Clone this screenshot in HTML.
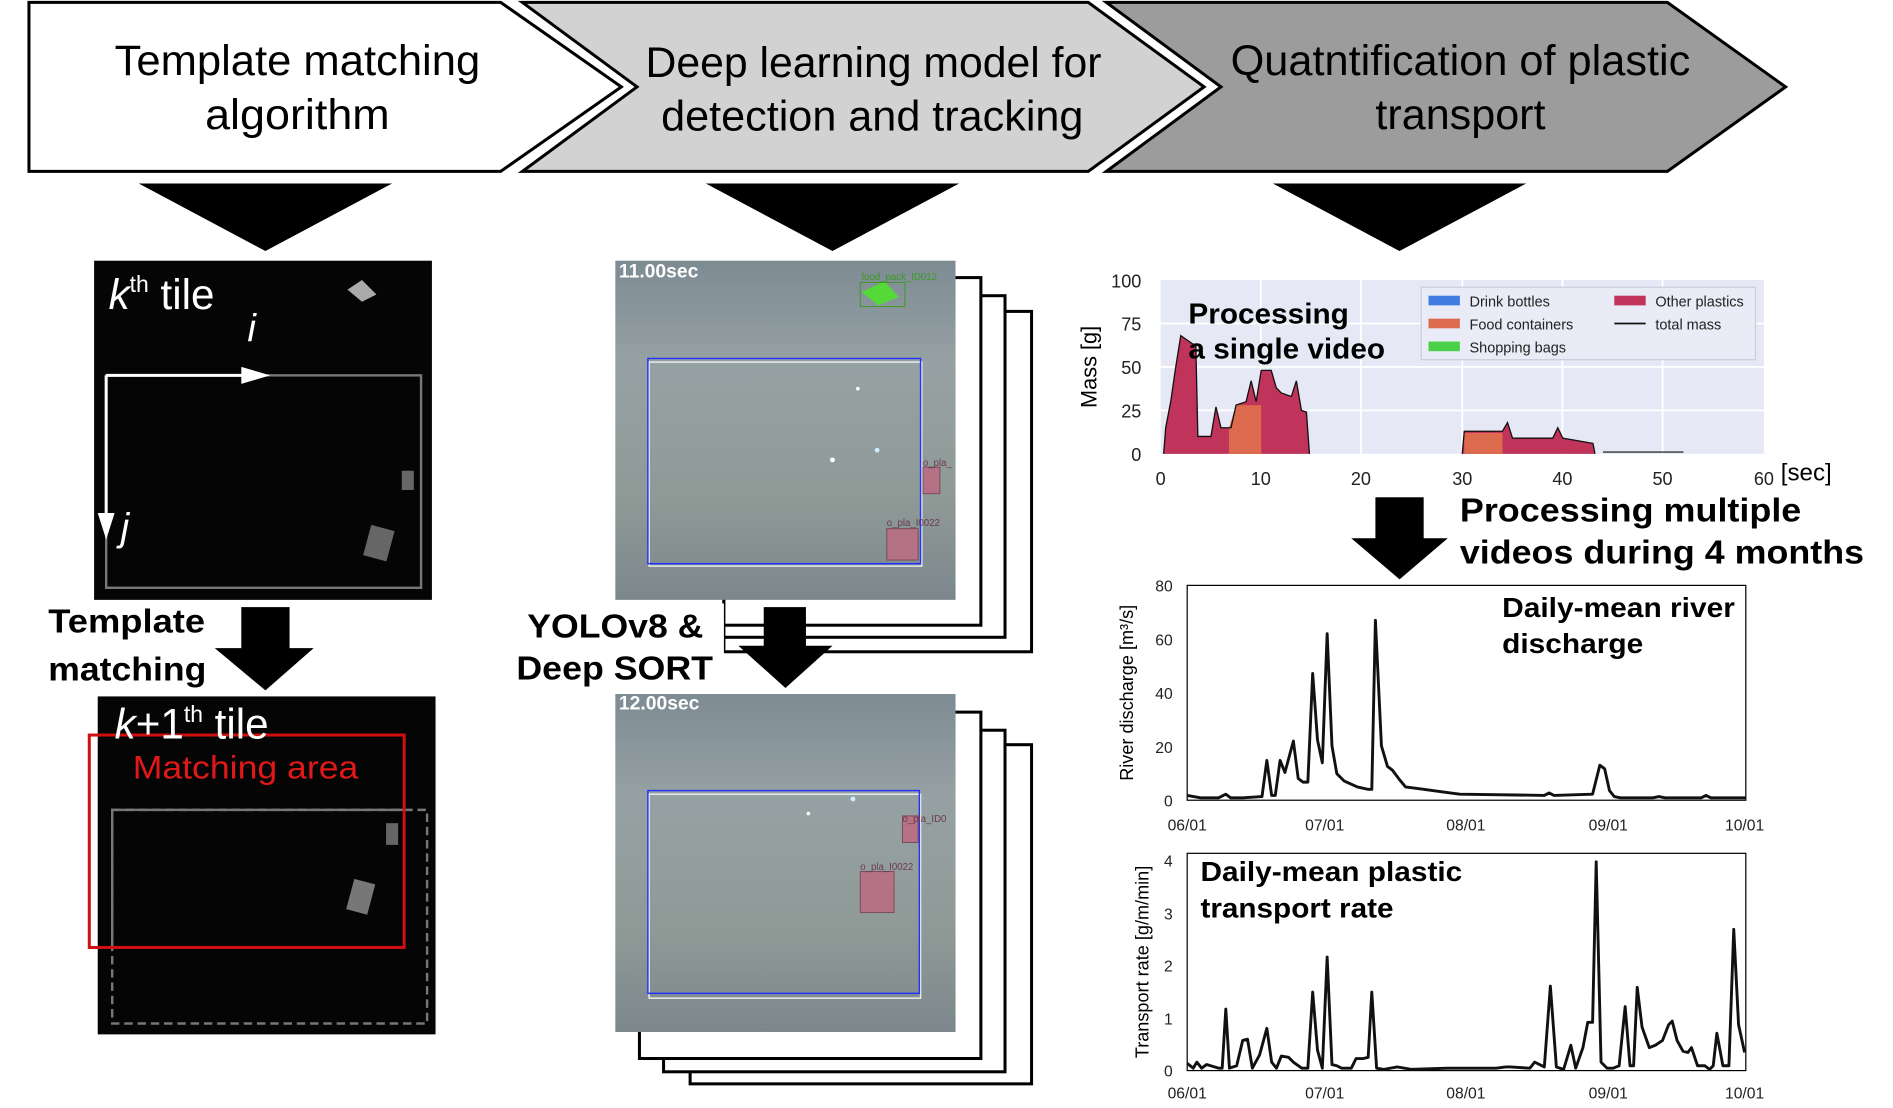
<!DOCTYPE html>
<html><head><meta charset="utf-8"><style>
html,body{margin:0;padding:0;background:#fff;overflow:hidden}
svg{display:block}
text{font-family:"Liberation Sans",sans-serif}
</style></head><body>
<svg width="1893" height="1108" viewBox="0 0 1569 918" preserveAspectRatio="none" xmlns="http://www.w3.org/2000/svg">
<defs>
<linearGradient id="ph" x1="0" y1="0" x2="0" y2="1"><stop offset="0" stop-color="#7d8b93"/><stop offset="0.3" stop-color="#96a1a3"/><stop offset="0.7" stop-color="#8f9a97"/><stop offset="1" stop-color="#7b878b"/></linearGradient>
</defs>
<polygon points="24,2 415,2 515,72 415,142 24,142" fill="#fff" stroke="#000" stroke-width="2.5"/>
<polygon points="433,2 902,2 998,72 902,142 433,142 528,72" fill="#d2d2d2" stroke="#000" stroke-width="2.5"/>
<polygon points="917,2 1382,2 1480,72 1382,142 917,142 1012,72" fill="#9c9c9c" stroke="#000" stroke-width="2.5"/>
<g font-size="35" fill="#000">
<text x="95" y="62" textLength="303" lengthAdjust="spacingAndGlyphs">Template matching</text>
<text x="170" y="107" textLength="153" lengthAdjust="spacingAndGlyphs">algorithm</text>
<text x="535" y="64" textLength="378" lengthAdjust="spacingAndGlyphs">Deep learning model for</text>
<text x="548" y="108" textLength="350" lengthAdjust="spacingAndGlyphs">detection and tracking</text>
<text x="1020" y="62" textLength="381" lengthAdjust="spacingAndGlyphs">Quatntification of plastic</text>
<text x="1140" y="107" textLength="141" lengthAdjust="spacingAndGlyphs">transport</text>
</g>
<polygon points="115,152 325,152 220,208" fill="#000"/>
<polygon points="585,152 795,152 690,208" fill="#000"/>
<polygon points="1055,152 1265,152 1160,208" fill="#000"/>

<rect x="78" y="216" width="280" height="281" fill="#050505"/>
<rect x="88" y="311" width="261" height="176" fill="none" stroke="#777" stroke-width="2"/>
<polygon points="288,240 300,232 312,244 300,250" fill="#aaa"/>
<rect x="304" y="437" width="20" height="26" fill="#666" transform="rotate(15 314 450)"/>
<rect x="333" y="390" width="10" height="16" fill="#666"/>
<line x1="88" y1="311" x2="205" y2="311" stroke="#fff" stroke-width="2.5"/>
<polygon points="200,304 224,311 200,318" fill="#fff"/>
<line x1="88" y1="311" x2="88" y2="430" stroke="#fff" stroke-width="2.5"/>
<polygon points="81,425 95,425 88,447" fill="#fff"/>
<text x="90" y="256" fill="#fff" font-size="35"><tspan font-style="italic">k</tspan><tspan font-size="19" dy="-14">th</tspan><tspan dy="14"> tile</tspan></text>
<text x="205" y="283" fill="#fff" font-size="32" font-style="italic">i</text>
<text x="100" y="448" fill="#fff" font-size="32" font-style="italic">j</text>
<text x="40" y="524" font-size="28" font-weight="bold" textLength="130" lengthAdjust="spacingAndGlyphs">Template</text>
<text x="40" y="564" font-size="28" font-weight="bold" textLength="131" lengthAdjust="spacingAndGlyphs">matching</text>
<rect x="200" y="503" width="40" height="35" fill="#000"/>
<polygon points="178,537 260,537 220,572" fill="#000"/>

<rect x="81" y="577" width="280" height="280" fill="#050505"/>
<rect x="93" y="671" width="242" height="114" fill="none" stroke="#777" stroke-width="2"/>
<rect x="93" y="671" width="261" height="177" fill="none" stroke="#777" stroke-width="2" stroke-dasharray="7,4"/>
<rect x="74" y="609" width="261" height="176" fill="none" stroke="#d01010" stroke-width="2.5"/>
<rect x="290" y="730" width="18" height="26" fill="#777" transform="rotate(15 299 743)"/>
<rect x="320" y="682" width="10" height="18" fill="#666"/>
<text x="95" y="612" fill="#fff" font-size="35"><tspan font-style="italic">k</tspan><tspan>+1</tspan><tspan font-size="19" dy="-14">th</tspan><tspan dy="14"> tile</tspan></text>
<text x="110" y="645" fill="#e01818" font-size="27" textLength="187" lengthAdjust="spacingAndGlyphs">Matching area</text>

<g fill="#fff" stroke="#000" stroke-width="2.5">
<rect x="600" y="258" width="255" height="282"/>
<rect x="600" y="245" width="233" height="283"/>
<rect x="600" y="230" width="213" height="288"/>
<rect x="572" y="617" width="283" height="281"/>
<rect x="550" y="605" width="283" height="283"/>
<rect x="530" y="590" width="283" height="287"/>
</g>
<rect x="510" y="216" width="282" height="281" fill="url(#ph)"/>
<rect x="510" y="575" width="282" height="280" fill="url(#ph)"/>
<rect x="538" y="300" width="226" height="169" fill="none" stroke="#eee" stroke-width="1.2"/>
<rect x="537" y="297" width="226" height="170" fill="none" stroke="#2233ff" stroke-width="1.2"/>
<rect x="538" y="658" width="225" height="169" fill="none" stroke="#eee" stroke-width="1.2"/>
<rect x="537" y="655" width="225" height="168" fill="none" stroke="#2233ff" stroke-width="1.2"/>
<polygon points="714,242 733,233 745,246 728,253" fill="#55d838"/>
<rect x="713" y="234" width="37" height="20" fill="none" stroke="#3a9a20" stroke-width="0.8"/>
<text x="714" y="232" font-size="8" fill="#3a9a20">food_pack_ID012</text>
<rect x="765" y="387" width="14" height="22" fill="#b47284" stroke="#7a4a5a" stroke-width="0.8"/>
<rect x="735" y="438" width="26" height="26" fill="#b47284" stroke="#7a4a5a" stroke-width="0.8"/>
<text x="765" y="386" font-size="8" fill="#6a3a4a">o_pla_</text>
<text x="735" y="436" font-size="8" fill="#6a3a4a">o_pla_I0022</text>
<rect x="748" y="676" width="13" height="22" fill="#b47284" stroke="#7a4a5a" stroke-width="0.8"/>
<rect x="713" y="722" width="28" height="34" fill="#b47284" stroke="#7a4a5a" stroke-width="0.8"/>
<text x="748" y="681" font-size="8" fill="#6a3a4a">o_pla_ID0</text>
<text x="713" y="721" font-size="8" fill="#6a3a4a">o_pla_I0022</text>
<circle cx="690" cy="381" r="2" fill="#fff"/><circle cx="727" cy="373" r="2" fill="#cef"/><circle cx="711" cy="322" r="1.5" fill="#fff"/>
<circle cx="707" cy="662" r="2" fill="#cef"/><circle cx="670" cy="674" r="1.5" fill="#fff"/>
<text x="513" y="230" font-size="16" font-weight="bold" fill="#fff">11.00sec</text>
<text x="513" y="588" font-size="16" font-weight="bold" fill="#fff">12.00sec</text>
<rect x="420" y="500" width="180" height="70" fill="#fff"/>
<text x="437" y="528" font-size="28" font-weight="bold" textLength="146" lengthAdjust="spacingAndGlyphs">YOLOv8 &amp;</text>
<text x="428" y="563" font-size="28" font-weight="bold" textLength="163" lengthAdjust="spacingAndGlyphs">Deep SORT</text>
<rect x="633" y="503" width="35" height="33" fill="#000"/>
<polygon points="612,535 690,535 651,570" fill="#000"/>

<rect x="962" y="232" width="500" height="144" fill="#e6e9f5"/>
<g stroke="#fff" stroke-width="1.5">
<line x1="962" y1="268" x2="1462" y2="268"/><line x1="962" y1="304" x2="1462" y2="304"/><line x1="962" y1="340" x2="1462" y2="340"/>
<line x1="1045" y1="232" x2="1045" y2="376"/><line x1="1128" y1="232" x2="1128" y2="376"/><line x1="1212" y1="232" x2="1212" y2="376"/><line x1="1295" y1="232" x2="1295" y2="376"/><line x1="1378" y1="232" x2="1378" y2="376"/>
</g>
<g transform="translate(962,376) scale(8.333,-1.44)">
<polygon fill="#c0335a" points="0.3,0 0.5,15 1,30 1.5,50 2,68 2.5,66 3.5,62 3.7,10 5,10 5.5,27 6,15 7,15 7.5,28 8.5,30 9,42 9.5,30 10,48 11,48 11.5,38 12,35 13,33 13.5,42 14,25 14.5,24 14.8,0"/>
<polygon fill="#dc6b4e" points="6.8,0 6.8,15 7.5,28 10,28 10,0"/>
<polygon fill="#c0335a" points="30,0 30.2,13 34,13 34.5,18 35,9 39,9 39.5,15 40,9 42,7 43,6 43.2,0"/>
<polygon fill="#dc6b4e" points="30.2,0 30.2,12 34,12 34,0"/>
<polyline fill="none" stroke="#111" vector-effect="non-scaling-stroke" stroke-width="1.3" points="0.3,0 0.5,15 1,30 1.5,50 2,68 2.5,66 3.5,62 3.7,10 5,10 5.5,27 6,15 7,15 7.5,28 8.5,30 9,42 9.5,30 10,48 11,48 11.5,38 12,35 13,33 13.5,42 14,25 14.5,24 14.8,0"/>
<polyline fill="none" stroke="#111" vector-effect="non-scaling-stroke" stroke-width="1.3" points="30,0 30.2,13 34,13 34.5,18 35,9 39,9 39.5,15 40,9 42,7 43,6 43.2,0"/>
<polyline fill="none" stroke="#333" vector-effect="non-scaling-stroke" stroke-width="1.3" points="44,1 52,1"/>
</g>
<g font-size="15" fill="#222" text-anchor="end">
<text x="946" y="238">100</text><text x="946" y="274">75</text><text x="946" y="310">50</text><text x="946" y="346">25</text><text x="946" y="382">0</text>
</g>
<g font-size="15" fill="#222" text-anchor="middle">
<text x="962" y="402">0</text><text x="1045" y="402">10</text><text x="1128" y="402">20</text><text x="1212" y="402">30</text><text x="1295" y="402">40</text><text x="1378" y="402">50</text><text x="1462" y="402">60</text>
</g>
<text x="1476" y="398" font-size="20">[sec]</text>
<text transform="translate(909,304) rotate(-90)" font-size="18" text-anchor="middle">Mass [g]</text>
<rect x="1178" y="238" width="277" height="60" fill="#e9ecf6" stroke="#ccd" stroke-width="1"/>
<g font-size="12" fill="#222">
<rect x="1184" y="245" width="26" height="8" fill="#3f7de0"/><text x="1218" y="254">Drink bottles</text>
<rect x="1184" y="264" width="26" height="8" fill="#dc6b4e"/><text x="1218" y="273">Food containers</text>
<rect x="1184" y="283" width="26" height="8" fill="#4bd04a"/><text x="1218" y="292">Shopping bags</text>
<rect x="1338" y="245" width="26" height="8" fill="#c0335a"/><text x="1372" y="254">Other plastics</text>
<line x1="1338" y1="268" x2="1364" y2="268" stroke="#111" stroke-width="1.5"/><text x="1372" y="273">total mass</text>
</g>
<text x="985" y="268" font-size="24" font-weight="bold" textLength="133" lengthAdjust="spacingAndGlyphs">Processing</text>
<text x="985" y="297" font-size="24" font-weight="bold" textLength="163" lengthAdjust="spacingAndGlyphs">a single video</text>

<rect x="1140" y="412" width="40" height="36" fill="#000"/>
<polygon points="1120,446 1200,446 1160,480" fill="#000"/>
<text x="1210" y="432" font-size="28" font-weight="bold" textLength="283" lengthAdjust="spacingAndGlyphs">Processing multiple</text>
<text x="1210" y="467" font-size="28" font-weight="bold" textLength="335" lengthAdjust="spacingAndGlyphs">videos during 4 months</text>

<rect x="984" y="485" width="463" height="178" fill="#fff" stroke="#000" stroke-width="1"/>
<g font-size="13" fill="#222" text-anchor="end">
<text x="972" y="490">80</text><text x="972" y="535">60</text><text x="972" y="579">40</text><text x="972" y="624">20</text><text x="972" y="668">0</text>
</g>
<g font-size="13" fill="#222" text-anchor="middle">
<text x="984" y="688">06/01</text><text x="1098" y="688">07/01</text><text x="1215" y="688">08/01</text><text x="1333" y="688">09/01</text><text x="1446" y="688">10/01</text>
<text x="984" y="910">06/01</text><text x="1098" y="910">07/01</text><text x="1215" y="910">08/01</text><text x="1333" y="910">09/01</text><text x="1446" y="910">10/01</text>
</g>
<text transform="translate(939,574) rotate(-90)" font-size="15" text-anchor="middle">River discharge [m³/s]</text>
<polyline fill="none" stroke="#111" stroke-width="2.4" stroke-linejoin="round" points="984,659 995,661 1010,661 1016,658 1020,661 1030,661 1046,660 1050,630 1054,659 1057,659 1061,630 1065,640 1072,614 1076,645 1080,648 1084,648 1088,558 1092,613 1096,632 1100,525 1104,618 1108,641 1114,647 1125,652 1134,654 1137,654 1140,514 1145,618 1150,635 1154,638 1160,646 1165,652 1180,654 1195,656 1210,658 1280,659 1284,657 1288,659 1320,658 1326,634 1330,637 1334,655 1338,660 1343,661 1370,661 1375,660 1380,661 1410,661 1414,659 1418,661 1447,661"/>
<text x="1245" y="511" font-size="23" font-weight="bold" textLength="193" lengthAdjust="spacingAndGlyphs">Daily-mean river</text>
<text x="1245" y="541" font-size="23" font-weight="bold" textLength="117" lengthAdjust="spacingAndGlyphs">discharge</text>

<rect x="984" y="707" width="463" height="180" fill="#fff" stroke="#000" stroke-width="1"/>
<g font-size="13" fill="#222" text-anchor="end">
<text x="972" y="718">4</text><text x="972" y="762">3</text><text x="972" y="805">2</text><text x="972" y="849">1</text><text x="972" y="892">0</text>
</g>
<text transform="translate(952,797) rotate(-90)" font-size="15" text-anchor="middle">Transport rate [g/m/min]</text>
<polyline fill="none" stroke="#111" stroke-width="2.4" stroke-linejoin="round" points="984,881 989,885 992,880 996,885 1000,882 1010,885 1013,885 1016,836 1019,885 1025,883 1030,862 1034,861 1038,885 1044,874 1050,852 1054,880 1058,885 1062,875 1068,876 1072,880 1079,885 1084,885 1088,822 1092,870 1096,885 1100,793 1104,882 1108,883 1112,885 1120,885 1124,877 1130,877 1134,876 1137,822 1141,885 1147,886 1158,884 1170,886 1200,885 1240,885 1248,884 1252,884 1268,885 1272,880 1280,884 1285,817 1290,884 1296,886 1302,866 1306,885 1312,868 1316,847 1320,847 1323,714 1327,880 1332,885 1337,885 1342,883 1347,834 1351,883 1354,883 1357,818 1361,851 1367,868 1372,866 1378,862 1383,849 1386,846 1390,862 1395,871 1399,872 1402,868 1407,883 1413,883 1417,886 1420,883 1423,856 1428,883 1433,883 1437,770 1441,849 1446,872"/>
<text x="995" y="730" font-size="23" font-weight="bold" textLength="217" lengthAdjust="spacingAndGlyphs">Daily-mean plastic</text>
<text x="995" y="760" font-size="23" font-weight="bold" textLength="160" lengthAdjust="spacingAndGlyphs">transport rate</text>
</svg>
</body></html>
